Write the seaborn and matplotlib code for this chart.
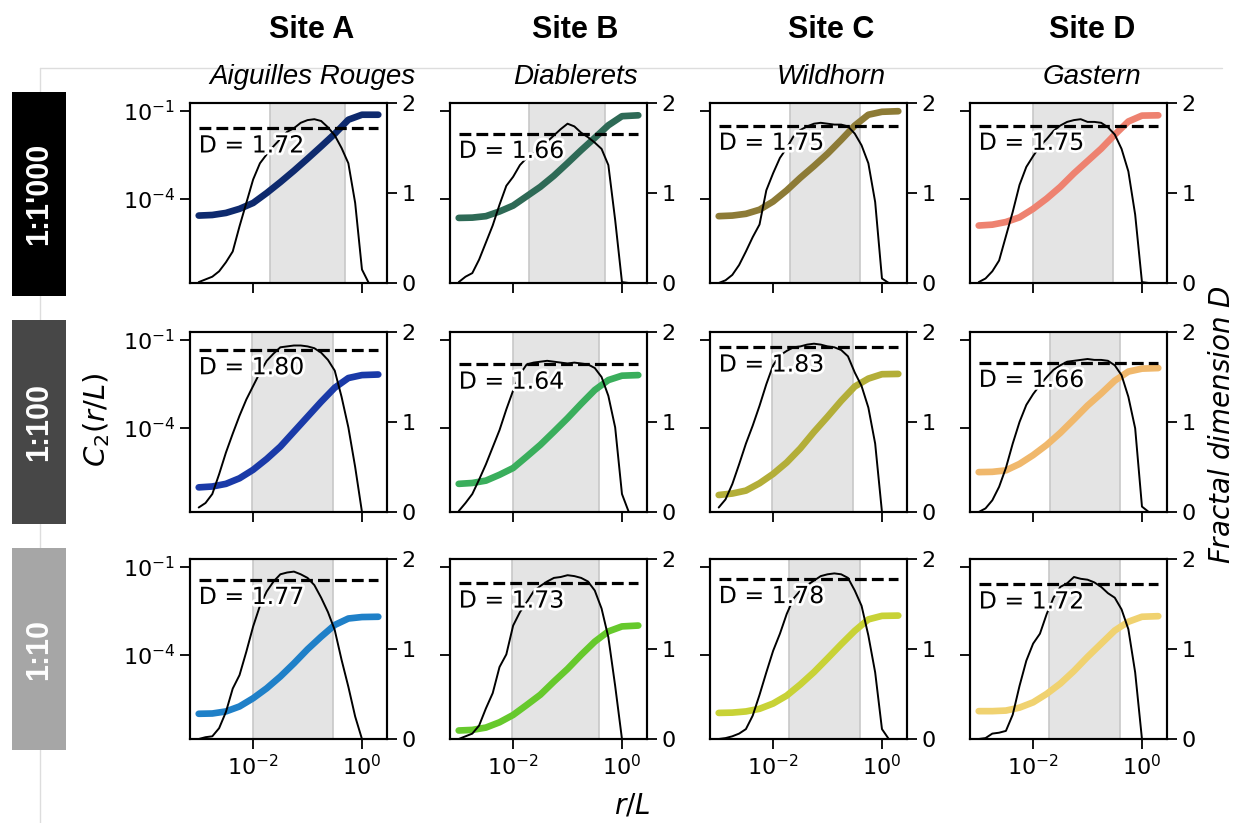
import numpy as np
import matplotlib
matplotlib.use("Agg")
import matplotlib.pyplot as plt
import matplotlib.patheffects as pe
import matplotlib.ticker as mticker
from matplotlib.patches import Rectangle
from matplotlib.lines import Line2D
import seaborn as sns

# ---- data ----
sites = ["Site A", "Site B", "Site C", "Site D"]
site_names = ["Aiguilles Rouges", "Diablerets", "Wildhorn", "Gastern"]
scales = ["1:1'000", "1:100", "1:10"]
scale_colors = ["#000000", "#474747", "#a6a6a6"]

# log10(r/L) sample positions
logr_c2 = [-3.0, -2.75, -2.5, -2.25, -2.0, -1.75, -1.5, -1.25, -1.0, -0.75, -0.5, -0.25, 0.0, 0.3]
logr_d = [-3.0, -2.875, -2.75, -2.625, -2.5, -2.375, -2.25, -2.125, -2.0, -1.875, -1.75, -1.625,
          -1.5, -1.375, -1.25, -1.125, -1.0, -0.875, -0.75, -0.625, -0.5, -0.375, -0.25, -0.125,
          0.0, 0.125, 0.25]

# log10 C2(r/L), rows = scale, columns = site
logc2_1000 = [
    [-4.57, -4.55, -4.48, -4.34, -4.14, -3.80, -3.43, -3.04, -2.63, -2.21, -1.78, -1.30, -1.13, -1.13],
    [-4.65, -4.64, -4.59, -4.43, -4.23, -3.91, -3.59, -3.21, -2.78, -2.34, -1.92, -1.49, -1.18, -1.15],
    [-4.59, -4.57, -4.51, -4.37, -4.09, -3.71, -3.28, -2.88, -2.46, -1.99, -1.50, -1.13, -1.03, -1.01],
    [-4.91, -4.88, -4.79, -4.63, -4.34, -3.99, -3.59, -3.13, -2.71, -2.29, -1.81, -1.36, -1.16, -1.15],
]
logc2_100 = [
    [-6.03, -6.00, -5.91, -5.72, -5.43, -5.06, -4.64, -4.13, -3.62, -3.11, -2.63, -2.30, -2.20, -2.18],
    [-5.91, -5.88, -5.80, -5.60, -5.37, -4.98, -4.58, -4.13, -3.67, -3.18, -2.71, -2.37, -2.22, -2.20],
    [-6.29, -6.24, -6.14, -5.89, -5.57, -5.18, -4.70, -4.14, -3.62, -3.08, -2.59, -2.32, -2.17, -2.16],
    [-5.51, -5.50, -5.45, -5.23, -4.93, -4.58, -4.17, -3.71, -3.24, -2.83, -2.39, -2.08, -1.98, -1.96],
]
logc2_10 = [
    [-6.01, -6.00, -5.93, -5.76, -5.48, -5.14, -4.74, -4.29, -3.81, -3.38, -2.98, -2.76, -2.71, -2.70],
    [-6.58, -6.56, -6.48, -6.30, -6.05, -5.71, -5.36, -4.91, -4.48, -4.00, -3.55, -3.20, -3.03, -3.00],
    [-5.98, -5.97, -5.93, -5.84, -5.66, -5.39, -5.01, -4.59, -4.12, -3.64, -3.18, -2.79, -2.67, -2.66],
    [-5.92, -5.92, -5.90, -5.80, -5.62, -5.33, -4.98, -4.55, -4.07, -3.62, -3.17, -2.87, -2.70, -2.68],
]

# local fractal dimension D(r/L)
dloc_1000 = [
    [0.01, 0.04, 0.07, 0.13, 0.23, 0.35, 0.63, 0.89, 1.15, 1.33, 1.43, 1.52, 1.60, 1.68, 1.72, 1.78,
     1.81, 1.82, 1.80, 1.73, 1.64, 1.50, 1.33, 0.89, 0.15, 0, 0],
    [0.01, 0.07, 0.11, 0.26, 0.45, 0.64, 0.87, 1.08, 1.18, 1.31, 1.39, 1.44, 1.50, 1.57, 1.64, 1.71,
     1.77, 1.74, 1.67, 1.62, 1.56, 1.49, 1.31, 0.70, 0.01, 0, 0],
    [0, 0.03, 0.09, 0.20, 0.35, 0.51, 0.65, 1.03, 1.22, 1.39, 1.50, 1.63, 1.70, 1.74, 1.77, 1.78,
     1.77, 1.76, 1.76, 1.74, 1.66, 1.53, 1.33, 0.90, 0.05, 0, 0],
    [0.01, 0.05, 0.13, 0.25, 0.52, 0.79, 1.09, 1.29, 1.41, 1.52, 1.60, 1.69, 1.75, 1.79, 1.81, 1.82,
     1.79, 1.79, 1.78, 1.73, 1.65, 1.49, 1.24, 0.76, 0.01, 0, 0],
]
dloc_100 = [
    [0.05, 0.10, 0.20, 0.42, 0.66, 0.87, 1.07, 1.25, 1.40, 1.55, 1.68, 1.76, 1.83, 1.84, 1.85, 1.85,
     1.84, 1.82, 1.77, 1.69, 1.57, 1.28, 0.94, 0.50, 0, 0, 0],
    [0.01, 0.10, 0.20, 0.36, 0.53, 0.72, 0.91, 1.14, 1.35, 1.53, 1.64, 1.66, 1.67, 1.68, 1.67, 1.66,
     1.65, 1.66, 1.65, 1.64, 1.60, 1.50, 1.29, 0.94, 0.20, 0, 0],
    [0.05, 0.14, 0.31, 0.53, 0.76, 0.96, 1.18, 1.42, 1.63, 1.74, 1.79, 1.83, 1.84, 1.86, 1.87, 1.86,
     1.84, 1.83, 1.80, 1.73, 1.55, 1.40, 1.16, 0.76, 0, 0, 0],
    [0, 0.04, 0.13, 0.28, 0.49, 0.76, 1.00, 1.19, 1.31, 1.41, 1.50, 1.58, 1.63, 1.67, 1.68, 1.69,
     1.70, 1.69, 1.69, 1.68, 1.63, 1.52, 1.28, 0.93, 0.06, 0, 0],
]
dloc_10 = [
    [0, 0.02, 0.03, 0.12, 0.30, 0.56, 0.71, 0.97, 1.25, 1.48, 1.64, 1.75, 1.83, 1.85, 1.86, 1.83,
     1.79, 1.71, 1.57, 1.41, 1.21, 0.88, 0.58, 0.25, 0, 0, 0],
    [0, 0.03, 0.06, 0.15, 0.34, 0.51, 0.80, 0.94, 1.26, 1.41, 1.52, 1.64, 1.70, 1.75, 1.79, 1.80,
     1.82, 1.81, 1.79, 1.75, 1.65, 1.45, 1.13, 0.59, 0, 0, 0],
    [0, 0.01, 0.03, 0.06, 0.11, 0.26, 0.49, 0.74, 0.98, 1.17, 1.39, 1.56, 1.65, 1.71, 1.76, 1.81,
     1.83, 1.84, 1.83, 1.79, 1.65, 1.48, 1.15, 0.74, 0.11, 0, 0],
    [0, 0.01, 0.06, 0.07, 0.09, 0.27, 0.59, 0.87, 1.06, 1.17, 1.39, 1.57, 1.69, 1.73, 1.80, 1.78,
     1.77, 1.74, 1.69, 1.62, 1.57, 1.44, 1.22, 0.74, 0, 0, 0],
]

# fitted fractal dimension
dfit_1000 = [1.72, 1.66, 1.75, 1.75]
dfit_100 = [1.80, 1.64, 1.83, 1.66]
dfit_10 = [1.77, 1.73, 1.78, 1.72]

# fitting range, log10(r/L)
fit_1000 = [(-1.69, -0.31), (-1.71, -0.32), (-1.69, -0.41), (-2.0, -0.54)]
fit_100 = [(-2.02, -0.54), (-2.01, -0.42), (-2.02, -0.54), (-1.69, -0.40)]
fit_10 = [(-2.0, -0.54), (-2.02, -0.43), (-1.70, -0.41), (-1.71, -0.41)]

colors_1000 = ["#0e2a6e", "#2e6a56", "#8d7b36", "#ee8270"]
colors_100 = ["#1a3aa8", "#3aae5c", "#b3ae38", "#f0b86c"]
colors_10 = ["#1f80c8", "#66c92c", "#c8d236", "#f0d270"]

logc2_rows = [logc2_1000, logc2_100, logc2_10]
dloc_rows = [dloc_1000, dloc_100, dloc_10]
dfit_rows = [dfit_1000, dfit_100, dfit_10]
fit_rows = [fit_1000, fit_100, fit_10]
color_rows = [colors_1000, colors_100, colors_10]

# ---- style ----
sns.set_style("ticks")
plt.rcParams["font.family"] = ["DejaVu Sans"]
plt.rcParams["text.color"] = "black"
plt.rcParams["axes.labelcolor"] = "black"
plt.rcParams["axes.edgecolor"] = "black"
plt.rcParams["axes.linewidth"] = 1.5
plt.rcParams["xtick.color"] = "black"
plt.rcParams["ytick.color"] = "black"

FW, FH = 1235, 823
fig = plt.figure(figsize=(FW / 100, FH / 100), dpi=100)

col_left = [190, 450, 710, 970]
row_top = [103, 332, 559]
aw, ah = 197, 180

r_c2 = 10 ** np.array(logr_c2)
r_d = 10 ** np.array(logr_d)

for i in range(3):
    for j in range(4):
        ax = fig.add_axes([col_left[j] / FW, 1 - (row_top[i] + ah) / FH, aw / FW, ah / FH])
        ax.set_xscale("log")
        ax.set_yscale("log")
        lo, hi = fit_rows[i][j]
        ax.axvspan(10 ** lo, 10 ** hi, facecolor="#e4e4e4", edgecolor="#c8c8c8", lw=1.2, zorder=0)
        sns.lineplot(x=r_c2, y=10 ** np.array(logc2_rows[i][j]), ax=ax,
                     color=color_rows[i][j], lw=4.8, solid_capstyle="round",
                     solid_joinstyle="round", zorder=2)
        ax.set_xlim(10 ** -3.16, 10 ** 0.46)
        ax.set_ylim(10 ** -6.87, 10 ** -0.73)
        ax.set_xticks([1e-2, 1e0])
        ax.set_yticks([1e-4, 1e-1])
        ax.xaxis.set_minor_locator(mticker.NullLocator())
        ax.yaxis.set_minor_locator(mticker.NullLocator())
        ax.tick_params(length=7, width=1.3, labelsize=16,
                       labelleft=(j == 0), labelbottom=(i == 2))

        ax2 = ax.twinx()
        sns.lineplot(x=r_d, y=dloc_rows[i][j], ax=ax2, color="black", lw=1.4, zorder=3)
        d = dfit_rows[i][j]
        ax2.hlines(d, r_c2[0], r_c2[-1], colors="black", linestyles="--", lw=2.3, zorder=4)
        ax2.text(r_c2[0], d - 0.27, f"D = {d:.2f}", fontsize=17, ha="left", va="baseline",
                 zorder=5, path_effects=[pe.withStroke(linewidth=4, foreground="white")])
        ax2.set_ylim(0, 2)
        ax2.set_yticks([0, 1, 2])
        ax2.set_xlim(10 ** -3.16, 10 ** 0.46)
        ax2.tick_params(length=7, width=1.3, labelsize=16)

# column headers
title_x = [312, 575, 831, 1092]
for j in range(4):
    fig.text(title_x[j] / FW, 1 - 30 / FH, sites[j], ha="center", va="center",
             fontsize=22, fontweight="bold", family="Liberation Sans")
    fig.text(title_x[j] / FW, 1 - 77 / FH, site_names[j], ha="center", va="center",
             fontsize=20, style="italic", family="Liberation Sans")

# faint frame lines
fig.add_artist(Line2D([40 / FW, 40 / FW], [0, 1 - 68 / FH], transform=fig.transFigure,
                      color="#dddddd", lw=1, zorder=0.5))
fig.add_artist(Line2D([40 / FW, 1222 / FW], [1 - 68 / FH, 1 - 68 / FH], transform=fig.transFigure,
                      color="#dddddd", lw=1, zorder=0.5))

# scale boxes
box_top = [92, 320, 548]
box_h = [204, 204, 202]
for i in range(3):
    fig.add_artist(Rectangle((12 / FW, 1 - (box_top[i] + box_h[i]) / FH), 54 / FW, box_h[i] / FH,
                             transform=fig.transFigure, facecolor=scale_colors[i],
                             edgecolor="none", zorder=1))
    fig.text(39 / FW, 1 - (box_top[i] + box_h[i] / 2) / FH, scales[i], rotation=90,
             ha="center", va="center", color="white", fontsize=22, fontweight="bold",
             family="Liberation Sans", zorder=2)

# axis labels
fig.text(97 / FW, 1 - 420 / FH, r"$C_2(r/L)$", rotation=90, ha="center", va="center", fontsize=21)
fig.text(1222 / FW, 1 - 425 / FH, "Fractal dimension $D$", rotation=90, ha="center",
         va="center", fontsize=20, style="italic")
fig.text(632 / FW, 1 - 805 / FH, r"$r/L$", ha="center", va="center", fontsize=20)

fig.savefig("out.png", dpi=100)
